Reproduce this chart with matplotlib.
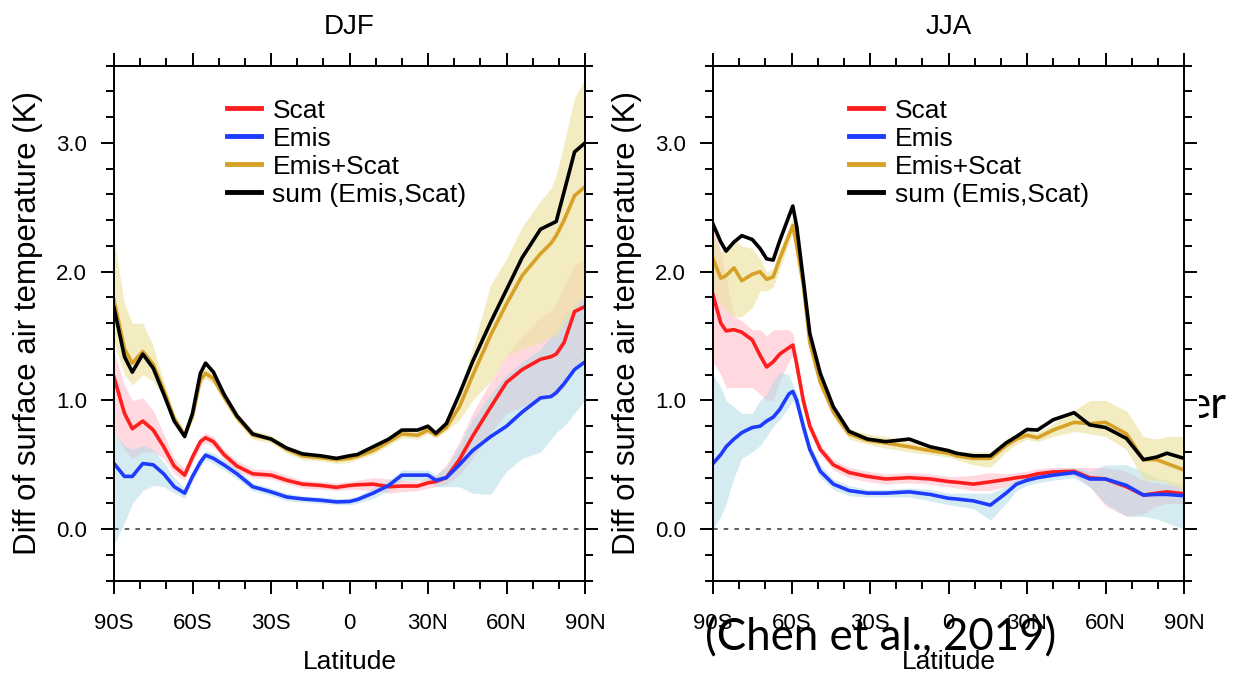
import matplotlib
matplotlib.use("Agg")
import matplotlib.pyplot as plt
import numpy as np
from matplotlib.ticker import MultipleLocator, FixedLocator, FixedFormatter
from matplotlib.patches import Rectangle

plt.rcParams['font.family'] = ['Liberation Sans', 'DejaVu Sans']

# ---- DJF ----
lat_djf = [-90, -86, -83, -79, -75, -71, -67, -63, -60, -57, -55, -52, -48, -43, -37, -30, -24, -18, -11, -5,
           0, 3, 9, 15, 20, 26, 30, 33, 37, 42, 47, 54, 60, 66, 73, 77, 79, 82, 86, 90]

scat_djf = [1.18, 0.90, 0.78, 0.84, 0.77, 0.64, 0.49, 0.42, 0.56, 0.68, 0.71, 0.68, 0.58, 0.49, 0.43, 0.42, 0.38, 0.35, 0.34, 0.325,
            0.34, 0.345, 0.35, 0.33, 0.335, 0.335, 0.36, 0.37, 0.40, 0.54, 0.72, 0.95, 1.14, 1.24, 1.32, 1.34, 1.36, 1.45, 1.69, 1.73]
scat_djf_lo = [0.75, 0.62, 0.55, 0.60, 0.60, 0.55, 0.43, 0.38, 0.52, 0.64, 0.67, 0.64, 0.54, 0.45, 0.40, 0.39, 0.35, 0.32, 0.31, 0.30,
               0.31, 0.31, 0.30, 0.28, 0.29, 0.30, 0.32, 0.33, 0.35, 0.42, 0.55, 0.75, 0.90, 0.95, 1.00, 1.05, 1.05, 1.10, 1.25, 1.35]
scat_djf_hi = [1.38, 1.12, 1.00, 1.02, 0.92, 0.74, 0.55, 0.47, 0.60, 0.72, 0.75, 0.72, 0.62, 0.53, 0.47, 0.46, 0.42, 0.38, 0.37, 0.36,
               0.37, 0.38, 0.40, 0.39, 0.38, 0.37, 0.40, 0.42, 0.50, 0.68, 0.90, 1.15, 1.35, 1.50, 1.65, 1.70, 1.75, 1.90, 2.05, 2.10]

emis_djf = [0.51, 0.41, 0.41, 0.51, 0.50, 0.43, 0.33, 0.28, 0.41, 0.52, 0.575, 0.55, 0.50, 0.43, 0.33, 0.29, 0.25, 0.235, 0.225, 0.212,
            0.215, 0.23, 0.28, 0.34, 0.42, 0.42, 0.42, 0.38, 0.40, 0.50, 0.61, 0.72, 0.80, 0.91, 1.02, 1.03, 1.06, 1.13, 1.24, 1.30]
emis_djf_lo = [-0.12, 0.05, 0.20, 0.30, 0.34, 0.33, 0.28, 0.24, 0.37, 0.48, 0.54, 0.51, 0.46, 0.39, 0.30, 0.26, 0.22, 0.21, 0.20, 0.19,
               0.19, 0.20, 0.24, 0.30, 0.38, 0.38, 0.38, 0.33, 0.33, 0.33, 0.28, 0.27, 0.45, 0.55, 0.60, 0.70, 0.75, 0.80, 0.90, 1.00]
emis_djf_hi = [0.75, 0.65, 0.62, 0.65, 0.62, 0.52, 0.40, 0.32, 0.45, 0.56, 0.61, 0.59, 0.54, 0.47, 0.36, 0.32, 0.28, 0.26, 0.25, 0.24,
               0.24, 0.26, 0.32, 0.38, 0.46, 0.46, 0.46, 0.42, 0.48, 0.65, 0.85, 1.05, 1.20, 1.30, 1.40, 1.50, 1.55, 1.65, 1.75, 1.80]

both_djf = [1.78, 1.40, 1.29, 1.38, 1.28, 1.08, 0.86, 0.73, 0.88, 1.16, 1.21, 1.17, 1.03, 0.87, 0.73, 0.70, 0.62, 0.57, 0.555, 0.54,
            0.55, 0.565, 0.61, 0.68, 0.74, 0.73, 0.77, 0.73, 0.79, 0.95, 1.19, 1.51, 1.75, 1.97, 2.14, 2.22, 2.28, 2.40, 2.59, 2.66]
both_djf_lo = [1.45, 1.20, 1.12, 1.20, 1.15, 1.02, 0.82, 0.70, 0.85, 1.12, 1.17, 1.13, 0.99, 0.83, 0.70, 0.67, 0.59, 0.54, 0.53, 0.51,
               0.52, 0.54, 0.58, 0.65, 0.71, 0.70, 0.74, 0.71, 0.76, 0.85, 1.00, 1.15, 1.35, 1.40, 1.45, 1.50, 1.50, 1.60, 1.70, 1.85]
both_djf_hi = [2.25, 1.75, 1.60, 1.60, 1.42, 1.15, 0.90, 0.76, 0.92, 1.20, 1.25, 1.21, 1.07, 0.91, 0.77, 0.73, 0.65, 0.60, 0.58, 0.57,
               0.58, 0.59, 0.64, 0.71, 0.77, 0.76, 0.80, 0.76, 0.84, 1.08, 1.40, 1.90, 2.10, 2.35, 2.55, 2.65, 2.75, 3.00, 3.35, 3.50]

sum_djf = [1.72, 1.34, 1.22, 1.36, 1.25, 1.05, 0.84, 0.72, 0.90, 1.21, 1.29, 1.22, 1.05, 0.88, 0.74, 0.70, 0.63, 0.585, 0.57, 0.55,
           0.57, 0.58, 0.64, 0.70, 0.77, 0.77, 0.80, 0.745, 0.82, 1.05, 1.30, 1.61, 1.86, 2.11, 2.33, 2.37, 2.39, 2.62, 2.93, 3.00]

# ---- JJA ----
lat_jja = [-90, -87, -85, -82, -79, -75, -72, -69.5, -67, -64.5, -61, -59.5, -58, -55.5, -53, -49, -44, -38, -31, -24,
           -15, -7, 0, 3, 9.5, 16, 22, 26, 30, 34, 40, 48, 54, 60, 68, 74.5, 79.5, 83.5, 90]

scat_jja = [1.82, 1.60, 1.54, 1.55, 1.53, 1.47, 1.35, 1.26, 1.30, 1.36, 1.41, 1.43, 1.28, 1.00, 0.80, 0.62, 0.50, 0.44, 0.41, 0.39,
            0.40, 0.39, 0.37, 0.365, 0.35, 0.368, 0.386, 0.40, 0.41, 0.43, 0.445, 0.45, 0.40, 0.39, 0.33, 0.265, 0.28, 0.29, 0.275]
scat_jja_lo = [1.30, 1.20, 1.10, 1.10, 1.10, 1.10, 1.05, 1.00, 1.00, 1.15, 1.30, 1.35, 1.20, 0.94, 0.76, 0.58, 0.46, 0.40, 0.37, 0.35,
               0.36, 0.35, 0.33, 0.32, 0.30, 0.30, 0.33, 0.36, 0.37, 0.39, 0.41, 0.42, 0.33, 0.18, 0.10, 0.12, 0.18, 0.20, 0.20]
scat_jja_hi = [2.40, 2.15, 1.95, 1.65, 1.62, 1.55, 1.55, 1.50, 1.55, 1.55, 1.55, 1.52, 1.36, 1.06, 0.84, 0.66, 0.54, 0.48, 0.45, 0.43,
               0.44, 0.43, 0.41, 0.41, 0.42, 0.44, 0.43, 0.44, 0.45, 0.47, 0.48, 0.48, 0.48, 0.48, 0.45, 0.38, 0.36, 0.35, 0.33]

emis_jja = [0.51, 0.58, 0.64, 0.70, 0.75, 0.79, 0.80, 0.84, 0.87, 0.93, 1.05, 1.07, 1.00, 0.80, 0.62, 0.45, 0.35, 0.30, 0.28, 0.28,
            0.29, 0.27, 0.24, 0.235, 0.22, 0.187, 0.28, 0.35, 0.38, 0.40, 0.42, 0.44, 0.39, 0.39, 0.34, 0.265, 0.27, 0.27, 0.26]
emis_jja_lo = [0.00, 0.10, 0.20, 0.40, 0.55, 0.60, 0.65, 0.72, 0.80, 0.85, 0.95, 1.00, 0.93, 0.72, 0.56, 0.40, 0.31, 0.26, 0.25, 0.25,
               0.25, 0.22, 0.19, 0.18, 0.16, 0.07, 0.20, 0.30, 0.34, 0.36, 0.38, 0.40, 0.33, 0.20, 0.10, 0.10, 0.08, 0.05, 0.00]
emis_jja_hi = [1.20, 1.10, 1.00, 0.95, 0.90, 0.90, 1.00, 1.05, 1.15, 1.22, 1.20, 1.12, 1.06, 0.86, 0.66, 0.50, 0.39, 0.34, 0.31, 0.31,
               0.32, 0.31, 0.28, 0.28, 0.28, 0.28, 0.33, 0.39, 0.42, 0.44, 0.46, 0.48, 0.45, 0.50, 0.50, 0.45, 0.40, 0.38, 0.35]

both_jja = [2.10, 1.95, 1.97, 2.03, 1.93, 1.98, 2.00, 1.94, 1.96, 2.10, 2.28, 2.36, 2.20, 1.90, 1.45, 1.14, 0.91, 0.74, 0.69, 0.67,
            0.64, 0.61, 0.59, 0.57, 0.55, 0.55, 0.65, 0.70, 0.73, 0.71, 0.77, 0.83, 0.82, 0.83, 0.74, 0.54, 0.54, 0.51, 0.46]
both_jja_lo = [1.85, 1.75, 1.70, 1.65, 1.65, 1.72, 1.85, 1.85, 1.88, 2.02, 2.22, 2.30, 2.14, 1.85, 1.41, 1.10, 0.87, 0.70, 0.66, 0.63,
               0.60, 0.58, 0.56, 0.54, 0.50, 0.48, 0.60, 0.66, 0.70, 0.68, 0.72, 0.76, 0.74, 0.72, 0.62, 0.38, 0.38, 0.36, 0.30]
both_jja_hi = [2.30, 2.15, 2.20, 2.25, 2.20, 2.18, 2.10, 2.00, 2.02, 2.18, 2.33, 2.42, 2.26, 1.95, 1.49, 1.18, 0.95, 0.78, 0.74, 0.72,
               0.68, 0.65, 0.62, 0.60, 0.60, 0.60, 0.70, 0.74, 0.77, 0.75, 0.82, 0.92, 1.00, 1.00, 0.92, 0.72, 0.70, 0.72, 0.72]

sum_jja = [2.37, 2.23, 2.16, 2.23, 2.28, 2.25, 2.18, 2.10, 2.09, 2.24, 2.43, 2.51, 2.35, 1.94, 1.52, 1.21, 0.95, 0.76, 0.70, 0.68,
           0.70, 0.64, 0.61, 0.59, 0.57, 0.57, 0.67, 0.72, 0.775, 0.77, 0.85, 0.905, 0.81, 0.79, 0.705, 0.54, 0.56, 0.59, 0.55]

xtick_vals = [-90, -60, -30, 0, 30, 60, 90]
xtick_labels = ['90S', '60S', '30S', '0', '30N', '60N', '90N']
ytick_vals = [0, 1, 2, 3]

c_scat, c_emis, c_both, c_sum = '#ff1e1e', '#1e3cff', '#d6a126', 'black'
b_scat, b_emis, b_both = '#ffc0cb', '#add8e6', '#eee3a0'

W, H = 1243, 679
fig = plt.figure(figsize=(W / 100, H / 100), dpi=100)


def px_axes(x0, x1, ytop, ybot):
    return fig.add_axes([x0 / W, 1 - ybot / H, (x1 - x0) / W, (ybot - ytop) / H])


def panel(ax, title, lat, series, legend_x):
    (sc, sc_lo, sc_hi), (em, em_lo, em_hi), (bo, bo_lo, bo_hi), sm = series
    ax.fill_between(lat, sc_lo, sc_hi, color=b_scat, alpha=0.6, lw=0)
    ax.fill_between(lat, em_lo, em_hi, color=b_emis, alpha=0.5, lw=0)
    ax.fill_between(lat, bo_lo, bo_hi, color=b_both, alpha=0.65, lw=0)
    ax.axhline(0, color='#333333', lw=1.1, ls=(0, (3, 4)), zorder=1)
    ax.plot(lat, sc, color=c_scat, lw=2.6, label='Scat')
    ax.plot(lat, em, color=c_emis, lw=2.6, label='Emis')
    ax.plot(lat, bo, color=c_both, lw=2.6, label='Emis+Scat')
    ax.plot(lat, sm, color=c_sum, lw=2.6, label='sum (Emis,Scat)')

    ax.set_xlim(-90, 90)
    ax.set_ylim(-0.4, 3.6)
    ax.xaxis.set_major_locator(FixedLocator(xtick_vals))
    ax.xaxis.set_major_formatter(FixedFormatter(xtick_labels))
    ax.xaxis.set_minor_locator(MultipleLocator(10))
    ax.yaxis.set_major_locator(FixedLocator(ytick_vals))
    ax.yaxis.set_major_formatter(FixedFormatter(['%.1f' % v for v in ytick_vals]))
    ax.yaxis.set_minor_locator(MultipleLocator(0.2))
    ax.tick_params(which='both', direction='out', top=True, right=True, width=1.4, labelsize=16)
    ax.tick_params(which='major', length=9.5)
    ax.tick_params(which='minor', length=5.5)
    ax.tick_params(axis='x', pad=14)
    ax.tick_params(axis='y', pad=10)
    for s in ax.spines.values():
        s.set_linewidth(1.4)

    ax.set_title(title, fontsize=20, pad=23)
    ax.set_xlabel('Latitude', fontsize=19, labelpad=11)
    ax.set_ylabel('Diff of surface air temperature (K)', fontsize=22.5, labelpad=9)

    leg = ax.legend(loc='upper left', bbox_to_anchor=(legend_x, 0.936), frameon=False,
                    fontsize=19, handlelength=1.3, handletextpad=0.42, labelspacing=0.15,
                    borderpad=0, borderaxespad=0)
    for h in leg.get_lines():
        h.set_linewidth(3.5)


ax1 = px_axes(114, 585, 65.7, 580.7)
ax2 = px_axes(713, 1184, 65.7, 580.7)

panel(ax1, 'DJF', lat_djf,
      [(scat_djf, scat_djf_lo, scat_djf_hi), (emis_djf, emis_djf_lo, emis_djf_hi),
       (both_djf, both_djf_lo, both_djf_hi), sum_djf], 0.24)
panel(ax2, 'JJA', lat_jja,
      [(scat_jja, scat_jja_lo, scat_jja_hi), (emis_jja, emis_jja_lo, emis_jja_hi),
       (both_jja, both_jja_lo, both_jja_hi), sum_jja], 0.289)

# slide text left around the figure
fig.text(1226 / W, 1 - 405 / H, 'er', fontsize=31.5, family=['Lato', 'DejaVu Sans'],
         ha='right', va='center', zorder=-2)
fig.patches.append(Rectangle((1150 / W, 1 - 440 / H), 49 / W, 70 / H, transform=fig.transFigure,
                             facecolor='white', edgecolor='none', zorder=-1))
fig.text(881 / W, 1 - 638 / H, '(Chen et al., 2019)', fontsize=31.5, family=['Lato', 'DejaVu Sans'],
         ha='center', va='center', zorder=5)

fig.savefig('out.png', dpi=100)
